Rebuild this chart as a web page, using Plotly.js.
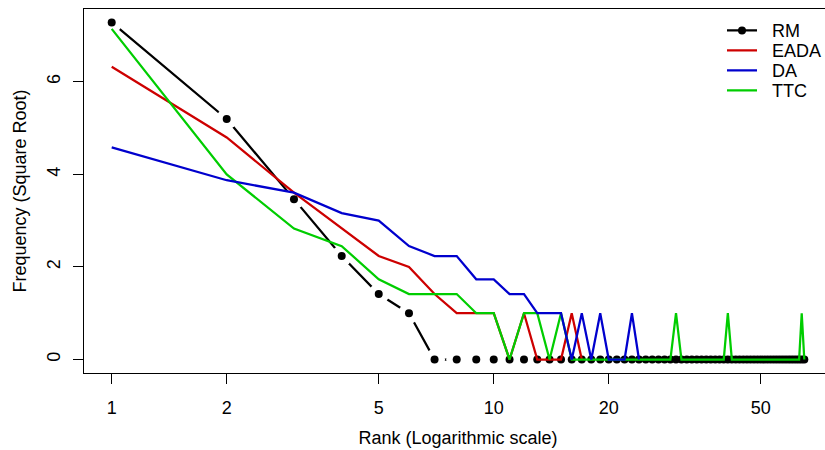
<!DOCTYPE html>
<html><head><meta charset="utf-8">
<script src="https://cdn.plot.ly/plotly-3.0.1.min.js"></script>
<style>html,body{margin:0;padding:0;overflow:hidden;background:#fff;}#chart{width:840px;height:450px;}</style>
</head><body><div id="chart"></div>
<script>
// Frequencies (counts) by rank; the chart plots their square roots.
const rmFreq   = [53,27,12,5,2,1,0,0,0,0, 0,0,0,0,0,0,0,0,0,0, 0,0,0,0,0,0,0,0,0,0, 0,0,0,0,0,0,0,0,0,0, 0,0,0,0,0,0,0,0,0,0, 0,0,0,0,0,0,0,0,0,0, 0,0,0,0,0];
const eadaFreq = [40,23,13,8,5,4,2,1,1,1, 0,1,0,0,0,1,0];
const daFreq   = [21,15,13,10,9,6,5,5,3,3, 2,2,1,1,1,0,1,0,1,0, 0,0,1,0];
const ttcFreq  = [51,16,8,6,3,2,2,2,1,1, 0,1,1,0,1,0,0,0,0,0, 0,0,0,0,0,0,0,0,0,1, 0,0,0,0,0,0,0,0,0,0, 1,0,0,0,0,0,0,0,0,0, 0,0,0,0,0,0,0,0,0,0, 0,0,0,1,0];
const xTickVals = [1,2,5,10,20,50];
const yTickVals = [0,2,4,6];

const ranks = a => a.map((_, i) => i + 1);
const sq = a => a.map(v => Math.sqrt(v));

const W = 840, H = 450, ML = 84, MR = 8, MT = 9, MB = 77;
const nMax = rmFreq.length;
const lx0 = 0, lx1 = Math.log10(nMax), ext = 0.04 * (lx1 - lx0);
const xRange = [lx0 - ext, lx1 + ext];
const ymax = Math.max(...sq(rmFreq), ...sq(ttcFreq), ...sq(eadaFreq), ...sq(daFreq));
const yRange = [-0.04 * ymax, ymax * 1.04];

const FONT = 'Liberation Sans, Arial, sans-serif';
const lw = 2.25;
const pad = '\u00A0\u00A0';
const rmX = ranks(rmFreq), rmY = sq(rmFreq);
const traces = [
  // RM: line, then white gap discs (R type="b"), then black dots
  {x: rmX, y: rmY, mode: 'lines', showlegend: false, hoverinfo: 'skip',
   line: {color: '#000', width: lw}},
  {x: rmX, y: rmY, mode: 'markers', showlegend: false, hoverinfo: 'skip',
   marker: {color: '#fff', size: 21, line: {width: 0}}},
  {x: rmX, y: rmY, mode: 'markers', name: 'RM', showlegend: false,
   marker: {color: '#000', size: 8, line: {width: 0}}},
  {x: ranks(eadaFreq), y: sq(eadaFreq), mode: 'lines', name: pad + 'EADA', legend: 'legend2',
   line: {color: '#CD0000', width: lw}},
  {x: ranks(ttcFreq), y: sq(ttcFreq), mode: 'lines', name: pad + 'TTC', legend: 'legend4',
   line: {color: '#00CD00', width: lw}},
  {x: ranks(daFreq), y: sq(daFreq), mode: 'lines', name: pad + 'DA', legend: 'legend3',
   line: {color: '#0000CD', width: lw}},
  {x: [null], y: [null], mode: 'lines+markers', name: pad + 'RM', legend: 'legend',
   line: {color: '#000', width: lw}, marker: {color: '#000', size: 8}}
];

const plotH = H - MT - MB, plotW = W - ML - MR;
const legX = (727 - 5 - ML) / plotW;
const rowY = p => (H - MB - p) / plotH;
const legBase = {xanchor: 'left', yanchor: 'middle', bgcolor: 'rgba(0,0,0,0)', borderwidth: 0,
  font: {family: FONT, size: 18, color: '#000'}, itemwidth: 30};
const layout = {
  width: W, height: H,
  margin: {l: ML, r: MR, t: MT, b: MB},
  paper_bgcolor: '#fff', plot_bgcolor: '#fff',
  font: {family: FONT, size: 18, color: '#000'},
  showlegend: true,
  legend:  Object.assign({}, legBase, {x: legX, y: rowY(30.7)}),
  legend2: Object.assign({}, legBase, {x: legX, y: rowY(50.7)}),
  legend3: Object.assign({}, legBase, {x: legX, y: rowY(70.7)}),
  legend4: Object.assign({}, legBase, {x: legX, y: rowY(90.7)}),
  xaxis: {type: 'log', range: xRange, tickvals: xTickVals, ticktext: xTickVals.map(String),
    ticks: 'outside', ticklen: 10, tickwidth: 1, tickcolor: '#000',
    showline: true, linecolor: '#000', linewidth: 1, mirror: true,
    showgrid: false, zeroline: false, ticklabelstandoff: 8,
    tickfont: {family: FONT, size: 18, color: '#000'},
    title: {text: 'Rank (Logarithmic scale)', font: {family: FONT, size: 18, color: '#000'}, standoff: 14}},
  yaxis: {range: yRange, tickvals: yTickVals, ticktext: yTickVals.map(String),
    ticks: 'outside', ticklen: 10, tickwidth: 1, tickcolor: '#000', tickangle: -90,
    showline: true, linecolor: '#000', linewidth: 1, mirror: true,
    showgrid: false, zeroline: false, ticklabelstandoff: 6,
    tickfont: {family: FONT, size: 18, color: '#000'},
    title: {text: 'Frequency (Square Root)', font: {family: FONT, size: 18, color: '#000'}, standoff: 12}}
};
Plotly.newPlot('chart', traces, layout, {displayModeBar: false, staticPlot: true});
</script></body></html>
